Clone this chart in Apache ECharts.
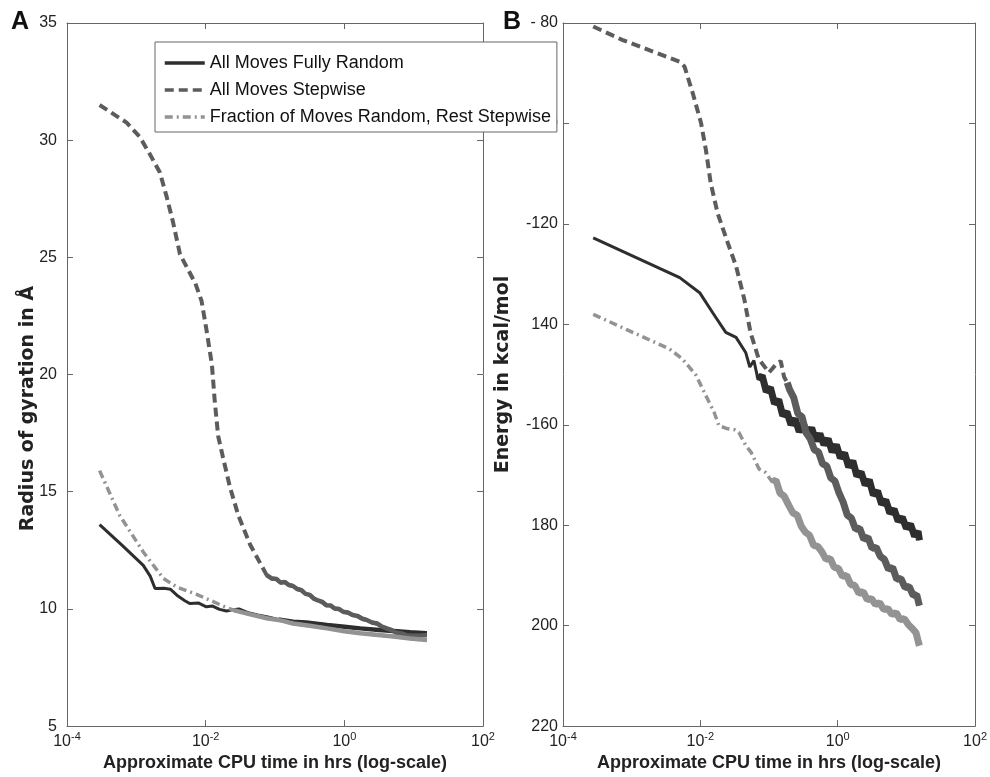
<!DOCTYPE html>
<html>
<head>
<meta charset="utf-8">
<script src="https://cdn.jsdelivr.net/npm/echarts@6/dist/echarts.min.js"></script>
<style>html,body{margin:0;padding:0;background:#fff}#c{width:990px;height:777px}</style>
</head>
<body>
<div id="c"></div>
<script>
// ---- DATA (x = log10 of CPU hours) ----
const seriesNames = ['All Moves Fully Random', 'All Moves Stepwise', 'Fraction of Moves Random, Rest Stepwise'];
const xTickExps = [-4, -2, 0, 2];
const yTicksB = [-220, -200, -180, -160, -140, -120, -100, -80];
const yTickLabelsB = ['220', '200', '180', '-160', '140', '-120', '-100', '- 80'];

// Panel A: radius of gyration
const randA_t = [-3.53,-3.20,-2.90,-2.80,-2.73,-2.60,-2.51,-2.40,-2.30,-2.23,-2.10,-1.99,-1.90,-1.80,-1.70,-1.60,-1.52,-1.40,-1.25,-1.12,-0.95,-0.74,-0.55,-0.25,0.00,0.23,0.50,0.71,0.95,1.19];
const randA_v = [13.60,12.70,11.86,11.40,10.87,10.88,10.84,10.55,10.35,10.23,10.25,10.09,10.12,9.98,9.91,9.97,10.00,9.85,9.74,9.67,9.55,9.45,9.42,9.31,9.24,9.17,9.10,9.06,9.00,8.96];

const stepA_t = [-3.53,-3.14,-2.95,-2.80,-2.66,-2.56,-2.47,-2.37,-2.15,-2.06,-1.99,-1.91,-1.87,-1.82,-1.75,-1.65,-1.53,-1.36,-1.12,-1.05,-0.98,-0.92,-0.86,-0.80,-0.74,-0.68,-0.62,-0.56,-0.50,-0.44,-0.38,-0.32,-0.26,-0.20,-0.14,-0.08,-0.02,0.05,0.12,0.19,0.26,0.33,0.40,0.47,0.54,0.61,0.68,0.75,0.82,0.90,1.00,1.10,1.19];
const stepA_v = [31.5,30.75,30.14,29.38,28.62,27.56,26.49,25.13,23.9,23.15,21.94,20.42,18.9,17.38,16.46,15.2,14.0,12.75,11.44,11.30,11.28,11.12,11.15,11.02,10.98,10.85,10.80,10.64,10.60,10.44,10.36,10.30,10.16,10.15,10.02,10.00,9.88,9.85,9.74,9.70,9.58,9.52,9.42,9.38,9.25,9.17,9.10,8.98,8.95,8.88,8.85,8.86,8.89];

const fracA_t = [-3.53,-3.24,-2.90,-2.61,-2.42,-2.25,-2.13,-2.00,-1.89,-1.75,-1.60,-1.40,-1.12,-0.90,-0.74,-0.50,-0.25,0.00,0.23,0.45,0.71,0.95,1.19];
const fracA_v = [15.90,13.99,12.43,11.30,10.94,10.75,10.62,10.45,10.31,10.12,9.95,9.80,9.60,9.50,9.38,9.28,9.17,9.05,8.96,8.90,8.82,8.74,8.67];

// Panel B: energy
const randB_t = [-3.56,-2.30,-2.01,-1.82,-1.63,-1.48,-1.34,-1.28,-1.22,-1.16,-1.10,-1.04,-0.98,-0.92,-0.86,-0.80,-0.74,-0.68,-0.62,-0.56,-0.50,-0.44,-0.38,-0.32,-0.26,-0.20,-0.14,-0.08,-0.02,0.04,0.10,0.16,0.22,0.28,0.34,0.40,0.46,0.52,0.58,0.64,0.70,0.76,0.82,0.88,0.94,1.00,1.06,1.12,1.17,1.19];
const randB_v = [-122.8,-130.7,-133.7,-137.7,-141.6,-142.6,-145.6,-148.5,-147.2,-151.0,-150.2,-153.4,-152.6,-155.8,-155.0,-158.2,-157.4,-160.0,-158.8,-161.4,-159.8,-162.0,-160.6,-163.2,-161.8,-164.0,-162.8,-165.4,-164.0,-166.6,-165.6,-168.4,-167.2,-170.2,-169.4,-172.0,-171.0,-174.0,-173.2,-175.8,-175.0,-177.6,-176.8,-179.2,-178.4,-180.6,-179.8,-182.2,-181.2,-183.0];

const stepB_t = [-3.56,-3.13,-2.69,-2.30,-2.23,-2.11,-1.99,-1.92,-1.85,-1.75,-1.60,-1.48,-1.36,-1.27,-1.15,-1.00,-0.90,-0.83,-0.78,-0.735,-0.70,-0.64,-0.58,-0.52,-0.46,-0.40,-0.34,-0.28,-0.22,-0.16,-0.10,-0.04,0.02,0.08,0.14,0.20,0.26,0.32,0.38,0.44,0.50,0.56,0.62,0.68,0.74,0.80,0.86,0.92,0.98,1.04,1.10,1.15,1.19];
const stepB_v = [-80.7,-83.4,-85.7,-87.7,-88.7,-94.0,-99.9,-105.2,-111.8,-117.8,-123.8,-128.4,-135.0,-141.6,-146.9,-149.6,-148.0,-147.3,-150.5,-151.6,-153.0,-154.6,-157.8,-158.4,-161.6,-162.8,-165.0,-165.4,-167.8,-168.2,-170.6,-171.2,-173.6,-175.4,-178.0,-178.6,-180.8,-180.6,-182.8,-182.4,-184.6,-184.4,-186.2,-186.8,-188.8,-188.4,-190.8,-190.6,-192.4,-192.2,-194.0,-193.8,-196.0];

const fracB_t = [-3.56,-3.08,-2.45,-2.26,-2.06,-1.92,-1.80,-1.73,-1.60,-1.50,-1.44,-1.34,-1.26,-1.145,-1.05,-0.952,-0.90,-0.84,-0.78,-0.71,-0.65,-0.59,-0.53,-0.47,-0.41,-0.35,-0.29,-0.23,-0.17,-0.11,-0.05,0.01,0.07,0.13,0.19,0.25,0.31,0.37,0.43,0.49,0.55,0.61,0.67,0.73,0.79,0.85,0.91,0.97,1.03,1.09,1.14,1.17,1.19];
const fracB_v = [-138.0,-141.0,-144.9,-146.9,-150.2,-154.2,-157.5,-160.2,-160.8,-161.0,-161.5,-164.1,-165.5,-168.8,-169.5,-171.4,-171.0,-173.6,-174.2,-176.1,-177.6,-178.0,-180.2,-181.4,-182.0,-184.0,-184.2,-185.3,-186.8,-186.6,-188.4,-188.6,-190.2,-190.0,-191.8,-192.0,-193.6,-193.2,-194.8,-194.6,-195.8,-195.4,-196.8,-196.6,-197.8,-197.4,-198.8,-198.6,-199.8,-200.6,-201.4,-203.0,-204.0];

// ---- STYLE ----
const COL = ['#2e2e2e', '#5c5c5c', '#939393'];
const LTYPE = ['solid', [9, 5], [8, 4, 2, 4]];
const LW = [3, 4, 3.5];
const FONT = "'Liberation Sans', Arial, sans-serif";
const xTickVals = xTickExps.map(e => Math.pow(10, e));

function pts(ts, vs) { return ts.map((e, i) => [Math.pow(10, e), vs[i]]); }
function tail(ts, vs, from) { return pts(ts, vs).filter((p, i) => ts[i] >= from); }

function curve(k, ts, vs, xi, yi, tailFrom, tailW) {
  return [{
    name: seriesNames[k], type: 'line', xAxisIndex: xi, yAxisIndex: yi,
    data: pts(ts, vs), symbol: 'none', showSymbol: false, z: 3 + k,
    lineStyle: { color: COL[k], width: LW[k], type: LTYPE[k] },
    itemStyle: { color: COL[k] }
  }, {
    name: seriesNames[k], type: 'line', xAxisIndex: xi, yAxisIndex: yi,
    data: tail(ts, vs, tailFrom), symbol: 'none', showSymbol: false, silent: true, z: 3 + k,
    lineStyle: { color: COL[k], width: tailW, type: 'solid', join: 'bevel' },
    itemStyle: { color: COL[k] }
  }];
}

const axisLineStyle = { lineStyle: { color: '#666', width: 1 } };
const tickIn = { inside: true, length: 6, lineStyle: { color: '#666' } };
const xTick = { inside: true, length: 6, lineStyle: { color: '#666' }, customValues: xTickVals };
const xLabel = {
  fontSize: 16, color: '#222', fontFamily: FONT, margin: 5, customValues: xTickVals,
  formatter: v => '10{e|' + Math.round(Math.log10(v)) + '}',
  rich: { e: { fontSize: 11, fontFamily: FONT, color: '#222', padding: [0, 0, 9, 0] } }
};
const xName = 'Approximate CPU time in hrs (log-scale)';
const xNameStyle = { fontSize: 18, fontWeight: 'bold', color: '#222', fontFamily: FONT };

function xAxes(gi) {
  return [{
    gridIndex: gi, type: 'log', logBase: 10, min: 1e-4, max: 1e2,
    axisLine: axisLineStyle, axisTick: xTick, splitLine: { show: false }, minorTick: { show: false },
    axisLabel: xLabel, name: xName, nameLocation: 'middle', nameGap: 25, nameTextStyle: xNameStyle
  }, {
    gridIndex: gi, type: 'log', logBase: 10, min: 1e-4, max: 1e2, position: 'top',
    axisLine: axisLineStyle, axisTick: xTick, splitLine: { show: false },
    axisLabel: { show: false, customValues: xTickVals }
  }];
}

const chart = echarts.init(document.getElementById('c'), null, { renderer: 'canvas' });
chart.setOption({
  animation: false,
  backgroundColor: '#fff',
  title: [
    { text: 'A', left: 11, top: 10, padding: 0, textStyle: { fontSize: 25, fontWeight: 'bold', color: '#111', fontFamily: FONT } },
    { text: 'B', left: 503, top: 10, padding: 0, textStyle: { fontSize: 25, fontWeight: 'bold', color: '#111', fontFamily: FONT } }
  ],
  grid: [
    { left: 67, top: 23, width: 416, height: 705 },
    { left: 563, top: 23, width: 414, height: 705 }
  ],
  legend: {
    data: seriesNames, orient: 'vertical', left: 155, top: 42,
    itemWidth: 40, itemHeight: 12, itemGap: 9,
    padding: [12, 6, 6, 8], borderColor: '#666', borderWidth: 1, backgroundColor: '#fff',
    itemStyle: { opacity: 0 },
    lineStyle: { width: 3.5 },
    textStyle: { fontSize: 18, color: '#111', fontFamily: FONT }, z: 20, selectedMode: false
  },
  xAxis: [...xAxes(0), ...xAxes(1)],
  yAxis: [{
    gridIndex: 0, type: 'value', min: 5, max: 35, interval: 5,
    axisLine: axisLineStyle, axisTick: tickIn, splitLine: { show: false },
    axisLabel: { fontSize: 16, color: '#222', fontFamily: FONT, margin: 10 },
    name: 'Radius of gyration in Å', nameLocation: 'middle', nameGap: 29, nameMoveOverlap: false,
    nameTextStyle: { fontSize: 19, fontWeight: 'bold', color: '#222', fontFamily: "'DejaVu Sans', sans-serif", padding: [0, 68, 0, 0] }
  }, {
    gridIndex: 0, type: 'value', min: 5, max: 35, interval: 5, position: 'right',
    axisLine: axisLineStyle, axisTick: tickIn, splitLine: { show: false }, axisLabel: { show: false }
  }, {
    gridIndex: 1, type: 'value', min: -220, max: -80, interval: 20,
    axisLine: axisLineStyle, axisTick: tickIn, splitLine: { show: false },
    axisLabel: { fontSize: 16, color: '#222', fontFamily: FONT, margin: 5,
      formatter: v => { const i = yTicksB.indexOf(v); return i >= 0 ? yTickLabelsB[i] : ''; } },
    name: 'Energy in kcal/mol', nameLocation: 'middle', nameGap: 50, nameMoveOverlap: false,
    nameTextStyle: { fontSize: 19, fontWeight: 'bold', color: '#222', fontFamily: "'DejaVu Sans', sans-serif" }
  }, {
    gridIndex: 1, type: 'value', min: -220, max: -80, interval: 20, position: 'right',
    axisLine: axisLineStyle, axisTick: tickIn, splitLine: { show: false }, axisLabel: { show: false }
  }],
  series: [
    ...curve(0, randA_t, randA_v, 0, 0, -1.0, 4.5),
    ...curve(1, stepA_t, stepA_v, 0, 0, -1.12, 4.5),
    ...curve(2, fracA_t, fracA_v, 0, 0, -1.6, 4.5),
    ...curve(0, randB_t, randB_v, 2, 2, -1.2, 7),
    ...curve(1, stepB_t, stepB_v, 2, 2, -0.75, 7),
    ...curve(2, fracB_t, fracB_v, 2, 2, -1.0, 7)
  ]
});
</script>
</body>
</html>
